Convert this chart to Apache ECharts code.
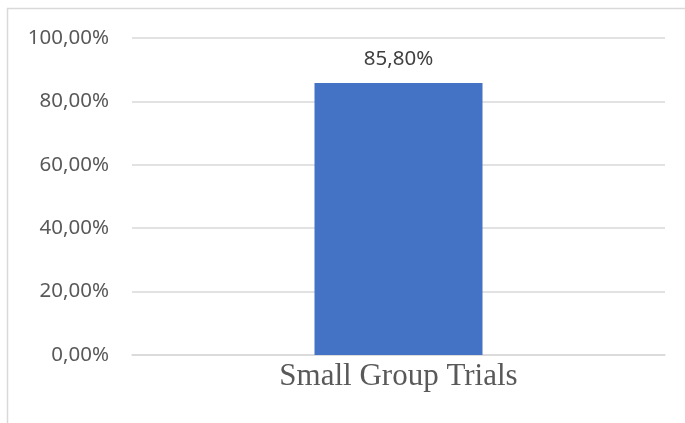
<!DOCTYPE html>
<html>
<head>
<meta charset="utf-8">
<script src="https://cdn.jsdelivr.net/npm/echarts@6/dist/echarts.min.js"></script>
<style>html,body{margin:0;padding:0;background:#fff;}#c{width:685px;height:423px;}</style>
</head>
<body>
<div id="c"></div>
<script>
var categories = ['Small Group Trials'];
var values = [85.8];
var yTicks = [0, 20, 40, 60, 80, 100];

function pct(v) { return Number(v).toFixed(2).replace('.', ',') + '%'; }

var chart = echarts.init(document.getElementById('c'), null, {renderer: 'canvas'});
chart.setOption({
  animation: false,
  backgroundColor: '#ffffff',
  graphic: [{
    type: 'rect', silent: true,
    shape: {x: 7.5, y: 8.5, width: 720, height: 440},
    style: {fill: 'none', stroke: '#d9d9d9', lineWidth: 1.5}
  }],
  grid: {left: 132, right: 20, top: 38, bottom: 68, containLabel: false},
  xAxis: {
    type: 'category',
    data: categories,
    axisLine: {show: true, lineStyle: {color: '#d9d9d9', width: 1.5}},
    axisTick: {show: false},
    axisLabel: {color: '#595959', fontFamily: 'Liberation Serif', fontSize: 31, margin: 6}
  },
  yAxis: {
    type: 'value',
    min: yTicks[0], max: yTicks[yTicks.length - 1], interval: 20,
    axisLine: {show: false},
    axisTick: {show: false},
    splitLine: {lineStyle: {color: '#d9d9d9', width: 1.5}},
    axisLabel: {color: '#595959', fontFamily: 'Noto Sans', fontSize: 20.5, margin: 23, formatter: pct}
  },
  series: [{
    type: 'bar',
    data: values,
    barWidth: 168,
    itemStyle: {color: '#4472C4'},
    label: {show: true, position: 'top', distance: 13, color: '#404040', fontFamily: 'Noto Sans', fontSize: 20.5, formatter: function (p) { return pct(p.value); }}
  }]
});
</script>
</body>
</html>
